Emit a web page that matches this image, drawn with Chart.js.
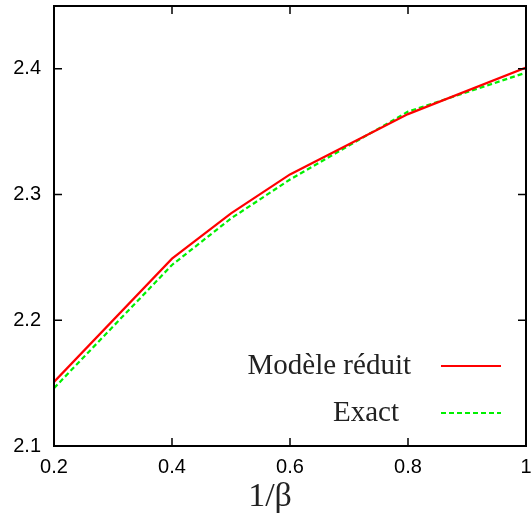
<!DOCTYPE html>
<html>
<head>
<meta charset="utf-8">
<script src="https://cdn.jsdelivr.net/npm/chart.js@4.4.0/dist/chart.umd.min.js"></script>
<style>
html,body{margin:0;padding:0;background:#fff;overflow:hidden;}
#wrap{width:531px;height:518px;position:relative;}
</style>
</head>
<body>
<div id="wrap"><canvas id="c" width="531" height="518"></canvas></div>
<script>
const xValues = [0.2, 0.4, 0.5, 0.6, 0.8, 1.0];
const reducedModel = [2.151, 2.249, 2.285, 2.316, 2.364, 2.401];
const exactValues = [2.146, 2.244, 2.281, 2.312, 2.366, 2.397];
const xTicks = [0.2, 0.4, 0.6, 0.8, 1.0];
const yTicks = [2.1, 2.2, 2.3, 2.4];
const seriesLabels = ['Modèle réduit', 'Exact'];
const xTitle = '1/β';

const innerTicks = {
  id: 'innerTicks',
  afterDraw(chart) {
    const ctx = chart.ctx, a = chart.chartArea;
    const xs = chart.scales.x, ys = chart.scales.y;
    ctx.save();
    ctx.strokeStyle = '#000';
    ctx.lineWidth = 1.5;
    const L = 8;
    ctx.beginPath();
    xTicks.forEach(v => {
      const p = xs.getPixelForValue(v);
      ctx.moveTo(p, a.bottom); ctx.lineTo(p, a.bottom - L);
      ctx.moveTo(p, a.top); ctx.lineTo(p, a.top + L);
    });
    yTicks.forEach(v => {
      const p = ys.getPixelForValue(v);
      ctx.moveTo(a.left, p); ctx.lineTo(a.left + L, p);
      ctx.moveTo(a.right, p); ctx.lineTo(a.right - L, p);
    });
    ctx.stroke();
    ctx.lineWidth = 2;
    ctx.strokeRect(a.left, a.top, a.right - a.left, a.bottom - a.top);
    // x title
    ctx.font = '34px "Liberation Serif", "Times New Roman", serif';
    ctx.textAlign = 'center';
    ctx.textBaseline = 'middle';
    ctx.fillStyle = '#222';
    ctx.fillText(xTitle, 270, 497);
    // legend
    const ds = chart.data.datasets;
    ctx.font = '29px "Liberation Serif", "Times New Roman", serif';
    ctx.textAlign = 'right';
    const rows = [365, 412];
    const textRight = [411, 399];
    ds.forEach((d, i) => {
      ctx.fillStyle = '#222';
      ctx.fillText(d.label, textRight[i], rows[i] + 1);
      ctx.beginPath();
      ctx.strokeStyle = d.borderColor;
      ctx.lineWidth = 2;
      ctx.setLineDash(d.borderDash || []);
      ctx.moveTo(441, rows[i] + 1);
      ctx.lineTo(501, rows[i] + 1);
      ctx.stroke();
      ctx.setLineDash([]);
    });
    ctx.restore();
  }
};

new Chart(document.getElementById('c'), {
  type: 'line',
  data: {
    datasets: [
      {
        label: seriesLabels[0],
        data: xValues.map((x, i) => ({x: x, y: reducedModel[i]})),
        borderColor: '#ff0000',
        borderWidth: 2.2,
        pointRadius: 0,
        tension: 0,
        fill: false
      },
      {
        label: seriesLabels[1],
        data: xValues.map((x, i) => ({x: x, y: exactValues[i]})),
        borderColor: '#00f000',
        borderWidth: 2.2,
        borderDash: [5, 3],
        pointRadius: 0,
        tension: 0,
        fill: false
      }
    ]
  },
  options: {
    responsive: false,
    animation: false,
    devicePixelRatio: 1,
    layout: {padding: {top: 6, right: 5, left: 0, bottom: 0}},
    plugins: {legend: {display: false}, tooltip: {enabled: false}},
    scales: {
      x: {
        type: 'linear',
        min: 0.2, max: 1.0,
        afterBuildTicks: s => { s.ticks = xTicks.map(v => ({value: v})); },
        afterFit: s => { s.height = 72; s.paddingLeft = 0; s.paddingRight = 0; },
        grid: {display: false, drawTicks: false},
        border: {display: false},
        ticks: {
          padding: 9,
          color: '#000',
          font: {family: '"Liberation Sans", Arial, sans-serif', size: 20},
          maxRotation: 0,
          autoSkip: false,
          callback: v => String(Math.round(v * 10) / 10)
        },
        title: {display: false}
      },
      y: {
        type: 'linear',
        min: 2.1, max: 2.45,
        afterBuildTicks: s => { s.ticks = yTicks.map(v => ({value: v})); },
        afterFit: s => { s.width = 54; s.paddingTop = 0; s.paddingBottom = 0; },
        grid: {display: false, drawTicks: false},
        border: {display: false},
        ticks: {
          padding: 13,
          color: '#000',
          font: {family: '"Liberation Sans", Arial, sans-serif', size: 20},
          autoSkip: false,
          callback: v => v.toFixed(1)
        }
      }
    }
  },
  plugins: [innerTicks]
});
</script>
</body>
</html>
